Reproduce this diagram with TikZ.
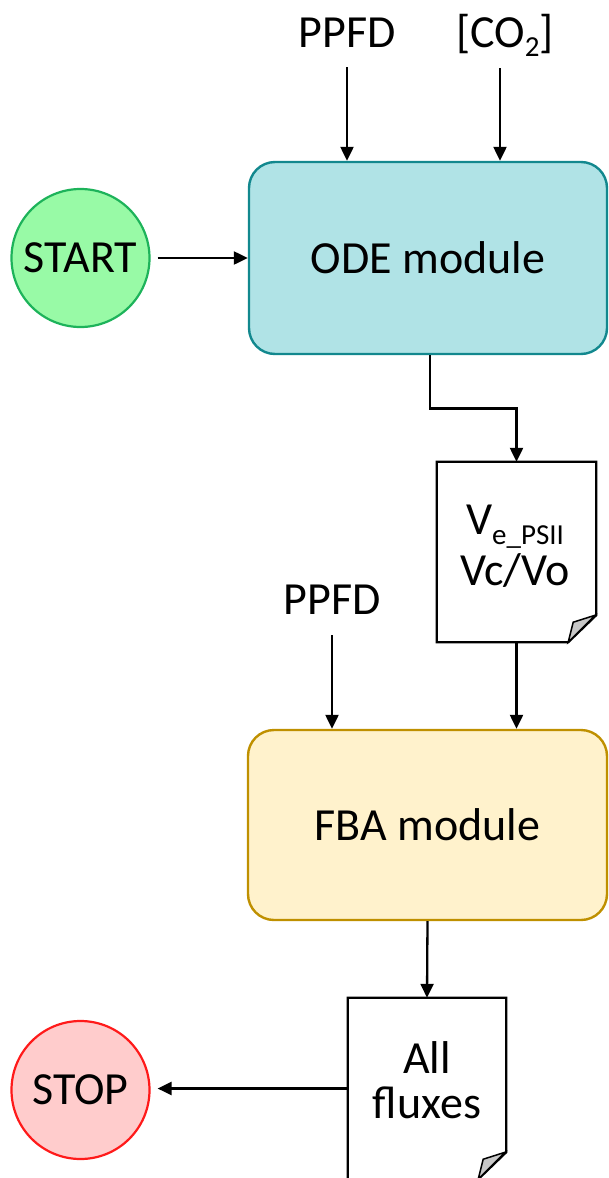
\documentclass[tikz,border=0pt]{standalone}
\usepackage{fontspec}
\setmainfont{Carlito}
\usetikzlibrary{arrows.meta,calc}
\definecolor{odefill}{HTML}{B0E3E6}
\definecolor{odedraw}{HTML}{12888E}
\definecolor{fbafill}{HTML}{FFF2CC}
\definecolor{fbadraw}{HTML}{BF9000}
\definecolor{startfill}{HTML}{98FAA6}
\definecolor{startdraw}{HTML}{1DB35A}
\definecolor{stopfill}{HTML}{FFCCCC}
\definecolor{stopdraw}{HTML}{FF1A1A}
\definecolor{foldgray}{HTML}{C8C8C8}
\newcommand{\bigtxt}{\fontsize{46}{52}\selectfont}
\newcommand{\subtxt}{\fontsize{29}{30}\selectfont}
\tikzset{
  arr/.style={line width=2.3pt,-{Triangle[length=14pt,width=13pt]}},
  modbox/.style={rounded corners=26pt,line width=2.4pt,minimum width=#1,minimum height=190pt,font=\bigtxt,inner sep=0pt},
  termcirc/.style={circle,line width=2.2pt,minimum size=138pt,inner sep=0pt,font=\bigtxt},
  docbox/.style={minimum width=159pt,inner sep=0pt},
  docline/.style={line width=2.3pt,line join=miter},
  lbl/.style={font=\bigtxt,inner sep=0pt,anchor=base}
}
\begin{document}
\begin{tikzpicture}[x=1pt,y=-1pt]
\useasboundingbox (0,0) rectangle (608,1178);
% labels
\node[lbl] (ppfd1) at (347,47) {PPFD};
\node[lbl] (co2) at (505,47) {[CO\raisebox{-9pt}{\subtxt 2}]};
\node[lbl] (ppfd2) at (332,614) {PPFD};
% modules
\node[modbox=358pt,minimum height=192pt,fill=odefill,draw=odedraw] (ode) at (428,258) {ODE module};
\node[modbox=359pt,fill=fbafill,draw=fbadraw] (fba) at (427.5,825) {FBA module};
% terminals
\node[termcirc,fill=startfill,draw=startdraw] (start) at (80.5,258) {START};
\node[termcirc,fill=stopfill,draw=stopdraw] (stop) at (80.5,1090) {STOP};
% documents
\node[docbox,minimum height=180pt] (doc1) at (516.5,552) {};
\node[docbox,minimum height=181pt,minimum width=158pt] (doc2) at (427,1088.5) {};
\foreach \d in {doc1,doc2}{
  \draw[docline,fill=white] (\d.north west) -- (\d.north east) -- ([yshift=27pt]\d.south east)
     -- ([xshift=-28pt]\d.south east) -- (\d.south west) -- cycle;
  \draw[line width=1.5pt,fill=foldgray,line join=miter] ([xshift=-28pt]\d.south east) -- ([xshift=-23pt,yshift=20pt]\d.south east)
     -- ([xshift=-1pt,yshift=27pt]\d.south east) -- cycle;
}
\node[lbl] (ve) at (515,534) {V\raisebox{-10pt}{\subtxt e\_PSII}};
\node[lbl] (vcvo) at (515,585) {Vc/Vo};
\node[lbl] (all) at (427,1073) {All};
\node[lbl] (fluxes) at (427,1118) {fluxes};
% connectors
\draw[arr] ([yshift=-20pt]ppfd1.south) -- (ppfd1.south |- ode.north);
\draw[arr] ([xshift=-5pt,yshift=-12pt]co2.south) -- ([xshift=-5pt]co2.south |- ode.north);
\draw[arr,shorten <=7pt] (start.east) -- (start.east -| ode.west);
\draw[arr] ([xshift=2pt]ode.south) |- ($(ode.south)!0.5!(doc1.north)$) -| (doc1.north);
\draw[arr] (doc1.south) -- (doc1.south |- fba.north);
\draw[arr] ([yshift=-21pt]ppfd2.south) -- (ppfd2.south |- fba.north);
\draw[arr] (fba.south) -- (doc2.north);
\draw[arr,shorten >=7pt] (doc2.west) -- (doc2.west -| stop.east);
\end{tikzpicture}
\end{document}
